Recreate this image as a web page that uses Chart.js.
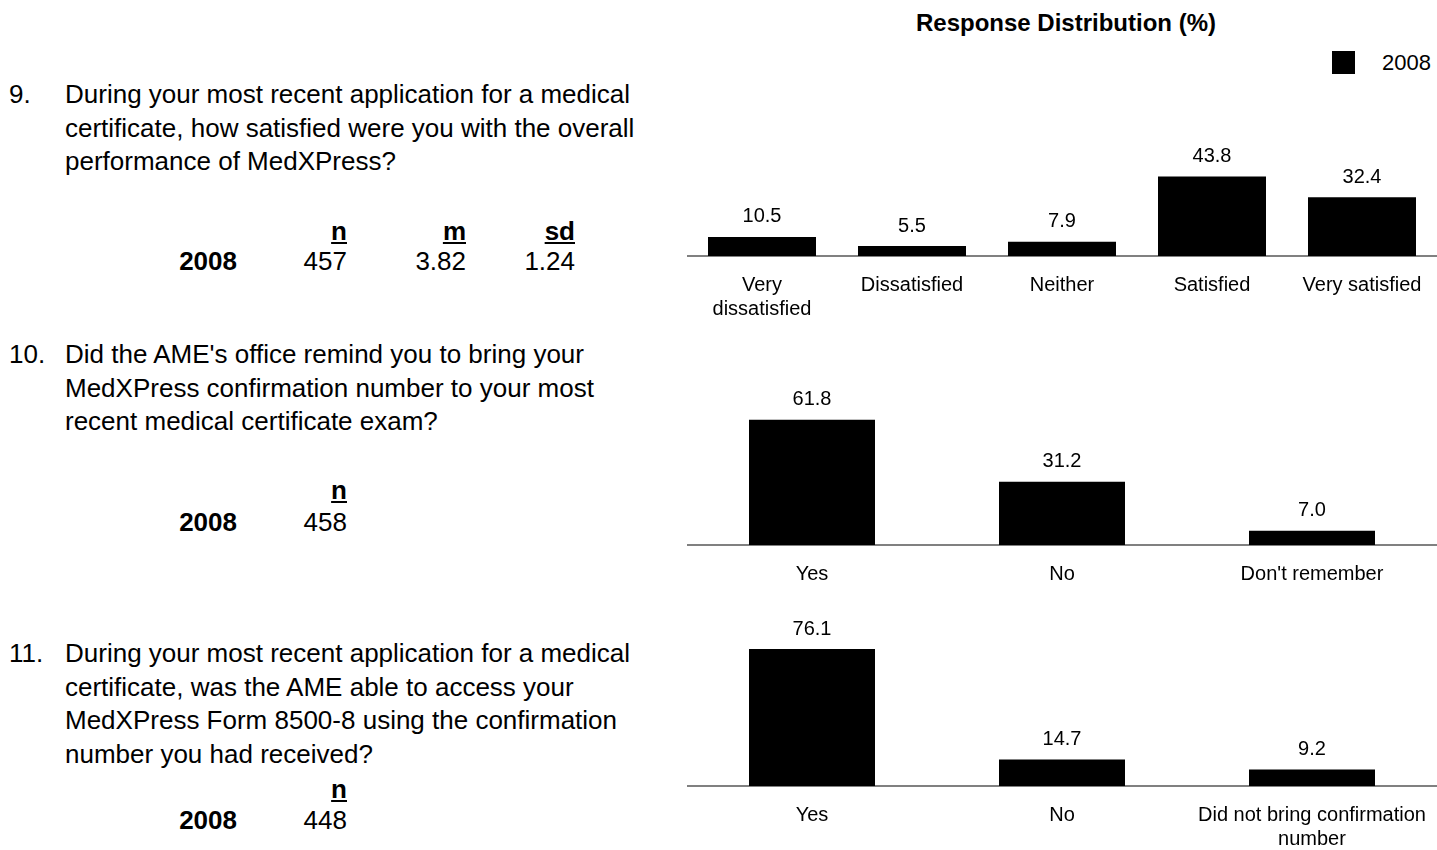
<!DOCTYPE html>
<html>
<head>
<meta charset="utf-8">
<script src="https://cdn.jsdelivr.net/npm/chart.js@4.4.0/dist/chart.umd.min.js"></script>
<style>
  html, body { margin:0; overflow:hidden; }
  body { width:1437px; height:850px; background:#fff; position:relative;
         font-family:"Liberation Sans", Arial, sans-serif; color:#000; }
  .abs { position:absolute; white-space:nowrap; }
  .q { font-size:26px; line-height:33.5px; }
  .st { font-size:26px; line-height:30px; text-align:right; }
  .hd { font-weight:bold; text-decoration:underline; }
  .yr { font-weight:bold; }
  canvas { position:absolute; left:687px; }
</style>
</head>
<body>
<div class="abs" style="left:880px;width:372px;top:9px;text-align:center;font-weight:bold;font-size:24px;">Response Distribution (%)</div>
<div class="abs" style="left:1332px;top:51px;width:23px;height:23px;background:#000;"></div>
<div class="abs" style="left:1382px;top:49px;font-size:22px;line-height:28px;">2008</div>

<div class="abs q" style="left:9px;top:78px;">9.</div>
<div class="abs q" style="left:65px;top:78px;">During your most recent application for a medical<br>certificate, how satisfied were you with the overall<br>performance of MedXPress?</div>

<div class="abs q" style="left:9px;top:338px;">10.</div>
<div class="abs q" style="left:65px;top:338px;">Did the AME's office remind you to bring your<br>MedXPress confirmation number to your most<br>recent medical certificate exam?</div>

<div class="abs q" style="left:9px;top:637px;">11.</div>
<div class="abs q" style="left:65px;top:637px;">During your most recent application for a medical<br>certificate, was the AME able to access your<br>MedXPress Form 8500-8 using the confirmation<br>number you had received?</div>

<div id="stats"></div>

<canvas id="c9" width="750" height="206" style="top:120px;"></canvas>
<canvas id="c10" width="750" height="220" style="top:375px;"></canvas>
<canvas id="c11" width="750" height="250" style="top:600px;"></canvas>

<script>
const year = '2008';

// Q9 overall satisfaction
const cats9 = [['Very', 'dissatisfied'], 'Dissatisfied', 'Neither', 'Satisfied', 'Very satisfied'];
const vals9 = [10.5, 5.5, 7.9, 43.8, 32.4];
const heads9 = ['n', 'm', 'sd'];
const stats9 = ['457', '3.82', '1.24'];

// Q10 reminder
const cats10 = ['Yes', 'No', "Don't remember"];
const vals10 = [61.8, 31.2, 7.0];
const heads10 = ['n'];
const stats10 = ['458'];

// Q11 access to form
const cats11 = ['Yes', 'No', ['Did not bring confirmation', 'number']];
const vals11 = [76.1, 14.7, 9.2];
const heads11 = ['n'];
const stats11 = ['448'];

const FONT = '"Liberation Sans", Arial, sans-serif';

// stats table on the left
const colRight = [347, 466, 575];
function statBlock(heads, vals, headTop, rowTop) {
  let html = '';
  heads.forEach((h, i) => {
    html += `<div class="abs st hd" style="left:${colRight[i] - 100}px;width:100px;top:${headTop}px;">${h}</div>`;
    html += `<div class="abs st" style="left:${colRight[i] - 100}px;width:100px;top:${rowTop}px;">${vals[i]}</div>`;
  });
  html += `<div class="abs st yr" style="left:137px;width:100px;top:${rowTop}px;">${year}</div>`;
  return html;
}
document.getElementById('stats').innerHTML =
  statBlock(heads9, stats9, 216, 246) +
  statBlock(heads10, stats10, 475, 507) +
  statBlock(heads11, stats11, 774, 805);

// value above each bar
const valueLabels = {
  id: 'valueLabels',
  afterDatasetsDraw(chart) {
    const ctx = chart.ctx;
    const vals = chart.data.datasets[0].data;
    ctx.save();
    ctx.font = '20px ' + FONT;
    ctx.fillStyle = '#000';
    ctx.textAlign = 'center';
    ctx.textBaseline = 'middle';
    chart.getDatasetMeta(0).data.forEach((bar, i) => {
      ctx.fillText(vals[i].toFixed(1), bar.x, bar.y - 20);
    });
    ctx.restore();
  }
};

function makeChart(id, labels, values, yMax, barPct, padTop, axisH) {
  new Chart(document.getElementById(id), {
    type: 'bar',
    data: {
      labels: labels,
      datasets: [{
        label: year,
        data: values,
        backgroundColor: '#000',
        borderWidth: 0,
        barPercentage: barPct,
        categoryPercentage: 0.8
      }]
    },
    options: {
      responsive: false,
      animation: false,
      layout: { padding: { top: padTop, left: 0, right: 0, bottom: 0 } },
      plugins: { legend: { display: false }, tooltip: { enabled: false } },
      scales: {
        x: {
          grid: { display: false, drawTicks: false },
          border: { display: true, color: '#808080', width: 2 },
          ticks: { font: { family: FONT, size: 20, lineHeight: 1.2 }, color: '#000', padding: 17, maxRotation: 0, autoSkip: false },
          afterFit: (s) => { s.height = axisH; s.paddingLeft = 0; s.paddingRight = 0; }
        },
        y: { display: false, min: 0, max: yMax }
      }
    },
    plugins: [valueLabels]
  });
}

makeChart('c9', cats9, vals9, 60, 0.9, 27, 70);
makeChart('c10', cats10, vals10, 70, 0.63, 28, 50);
makeChart('c11', cats11, vals11, 80, 0.63, 42, 64);
</script>
</body>
</html>
